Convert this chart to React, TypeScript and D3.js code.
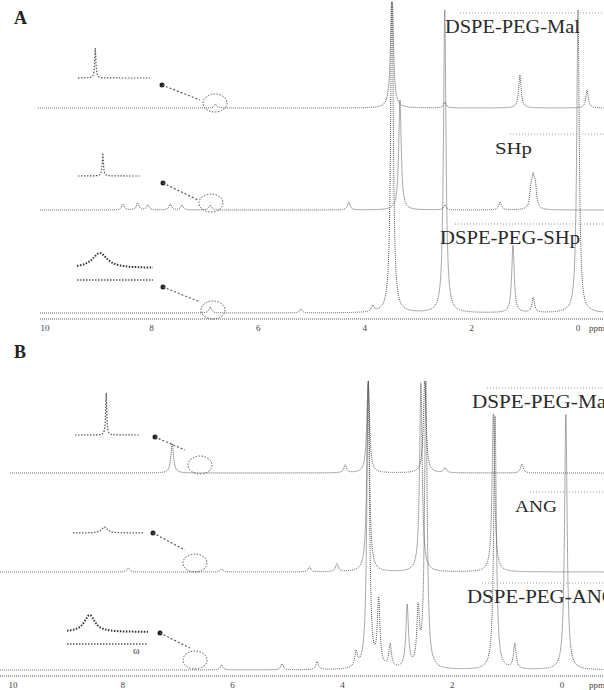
import React from 'react'
import * as d3 from 'd3'

// chemical shift ticks (ppm), same for both panels
const ppmTicks = [10, 8, 6, 4, 2, 0]

// peak lists [ppm, height] (heights in px above baseline)
const aMalPeaks: [number, number][] = [[3.49, 130], [1.09, 33], [-0.17, 18], [6.8, 4], [2.5, 6]]
const aShpPeaks: [number, number][] = [
  [3.34, 110], [0.84, 25], [0.8, 20], [0.88, 18], [4.3, 8], [1.46, 8],
  [8.54, 6], [8.26, 7], [8.07, 5], [7.65, 6], [7.43, 5], [2.5, 5], [6.9, 5],
]
const aPegShpPeaks: [number, number][] = [
  [3.49, 340], [2.5, 303], [1.22, 68], [0.84, 15], [0.0, 303], [3.85, 6], [5.2, 4], [6.9, 6],
]

const bMalPeaks: [number, number][] = [[3.53, 95], [2.5, 95], [3.95, 8], [2.13, 5], [0.73, 9], [7.1, 30]]
const bAngPeaks: [number, number][] = [[3.53, 190], [2.57, 190], [1.25, 160], [4.1, 8], [4.6, 5], [7.9, 4], [6.2, 3]]
const bPegAngPeaks: [number, number][] = [
  [3.53, 295], [3.34, 67], [3.13, 23], [2.82, 62], [2.62, 55], [2.48, 290], [1.22, 257],
  [0.86, 25], [-0.07, 258], [4.46, 8], [3.75, 15], [5.1, 6], [6.2, 5],
]

// inset expansions [position 0..1, height, width]
const aMalInset: [number, number, number][] = [[0.24, 30, 0.01]]
const aShpInset: [number, number, number][] = [[0.4, 23, 0.012]]
const aPegInset: [number, number, number][] = [[0.3, 15, 0.12]]
const bMalInset: [number, number, number][] = [[0.48, 42, 0.01]]
const bAngInset: [number, number, number][] = [[0.45, 6, 0.05]]
const bPegInset: [number, number, number][] = [[0.28, 17, 0.08]]

const traceLabels = ['DSPE-PEG-Mal', 'SHp', 'DSPE-PEG-SHp', 'DSPE-PEG-Mal', 'ANG', 'DSPE-PEG-ANG']

const INK = '#555'
const serif = '"Liberation Serif", "DejaVu Serif", serif'

const lorentz = (peaks: [number, number, number?][], x: number, w: number) =>
  d3.sum(peaks, (p) => {
    const g = p[2] ?? w
    return (p[1] * g * g) / (g * g + (x - p[0]) * (x - p[0]))
  })

interface TraceProps {
  x: d3.ScaleLinear<number, number>
  peaks: [number, number][]
  base: number
  x0: number
  x1: number
  top: number
}

const Trace: React.FC<TraceProps> = ({ x, peaks, base, x0, x1, top }) => {
  const y = d3.scaleLinear().domain([0, 100]).range([base, base - 100])
  const pts = d3.range(x0, x1, 0.4).map((px) => {
    const v = lorentz(peaks, x.invert(px), 0.028)
    return [px, Math.max(top, y(v))] as [number, number]
  })
  return <path d={d3.line()(pts) || ''} fill="none" stroke={INK} strokeWidth={1} strokeDasharray="1 1" />
}

interface InsetProps {
  peaks: [number, number, number][]
  x0: number
  x1: number
  base: number
  under?: boolean
}

const Inset: React.FC<InsetProps> = ({ peaks, x0, x1, base, under }) => {
  const t = d3.scaleLinear().domain([0, 1]).range([x0, x1])
  const pts = d3.range(0, 1.001, 0.005).map((u) => [t(u), base - lorentz(peaks, u, 0.01)] as [number, number])
  return (
    <g fill="none" stroke={INK} strokeDasharray="1.5 1.5">
      <path d={d3.line()(pts) || ''} strokeWidth={under ? 2 : 1.2} stroke={under ? '#333' : INK} />
      {under && <line x1={x0} x2={x1} y1={base + 12} y2={base + 12} strokeWidth={1.5} />}
    </g>
  )
}

const Pointer: React.FC<{ from: [number, number]; to: [number, number]; c: [number, number] }> = ({ from, to, c }) => (
  <g>
    <circle cx={from[0]} cy={from[1]} r={2.5} fill="#222" />
    <line x1={from[0]} y1={from[1]} x2={to[0]} y2={to[1]} stroke={INK} strokeDasharray="2 2" strokeWidth={1.2} />
    <ellipse cx={c[0]} cy={c[1]} rx={12} ry={9} fill="none" stroke={INK} strokeDasharray="1.5 1.5" />
  </g>
)

const Label: React.FC<{ text: string; x: number; y: number; len?: number; size?: number }> = ({ text, x, y, len, size = 19 }) => (
  <g>
    <line x1={x + 15} x2={604} y1={y - 20} y2={y - 20} stroke="#999" strokeDasharray="1 2" />
    <text x={x} y={y} fontFamily={serif} fontSize={size} fill="#2a2a2a" textLength={len} lengthAdjust="spacingAndGlyphs">
      {text}
    </text>
  </g>
)

const Axis: React.FC<{ x: d3.ScaleLinear<number, number>; y: number; x0: number }> = ({ x, y, x0 }) => (
  <g>
    <line x1={x0} x2={604} y1={y} y2={y} stroke={INK} strokeDasharray="1 1" />
    {ppmTicks.map((v) => (
      <text key={v} x={x(v)} y={y + 12} fontFamily={serif} fontSize={9} fill="#444" textAnchor="middle">
        {v}
      </text>
    ))}
    <text x={597} y={y + 12} fontFamily={serif} fontSize={9} fill="#444" textAnchor="middle">ppm</text>
  </g>
)

export default function App() {
  const xa = d3.scaleLinear().domain([10, 0]).range([45, 578])
  const xb = d3.scaleLinear().domain([10, 0]).range([13, 562])

  return (
    <svg width={604} height={690} style={{ position: 'absolute', left: 0, top: 0, background: '#fff' }}>
      {/* panel A */}
      <text x={14} y={24} fontFamily={serif} fontSize={18} fontWeight="bold" fill="#222">A</text>
      <Trace x={xa} peaks={aMalPeaks} base={108} x0={38} x1={604} top={2} />
      <Trace x={xa} peaks={aShpPeaks} base={210} x0={40} x1={604} top={2} />
      <Trace x={xa} peaks={aPegShpPeaks} base={313} x0={40} x1={604} top={2} />
      <Axis x={xa} y={319} x0={40} />
      <Inset peaks={aMalInset} x0={78} x1={150} base={78} />
      <Inset peaks={aShpInset} x0={78} x1={140} base={176} />
      <Inset peaks={aPegInset} x0={77} x1={153} base={268} under />
      <Pointer from={[162, 85]} to={[200, 100]} c={[215, 103]} />
      <Pointer from={[163, 183]} to={[198, 200]} c={[211, 203]} />
      <Pointer from={[163, 287]} to={[200, 302]} c={[213, 310]} />
      <Label text={traceLabels[0]} x={445} y={33} len={135} />
      <Label text={traceLabels[1]} x={495} y={154} len={37} size={17} />
      <Label text={traceLabels[2]} x={440} y={244} len={140} />

      {/* panel B */}
      <text x={14} y={358} fontFamily={serif} fontSize={18} fontWeight="bold" fill="#222">B</text>
      <Trace x={xb} peaks={bMalPeaks} base={473} x0={10} x1={604} top={381} />
      <Trace x={xb} peaks={bAngPeaks} base={572} x0={0} x1={604} top={381} />
      <Trace x={xb} peaks={bPegAngPeaks} base={670} x0={0} x1={604} top={381} />
      <Axis x={xb} y={676} x0={0} />
      <Inset peaks={bMalInset} x0={75} x1={140} base={435} />
      <Inset peaks={bAngInset} x0={73} x1={143} base={533} />
      <Inset peaks={bPegInset} x0={67} x1={148} base={632} under />
      <Pointer from={[155, 437]} to={[185, 450]} c={[200, 465]} />
      <Pointer from={[153, 533]} to={[185, 550]} c={[195, 563]} />
      <Pointer from={[160, 633]} to={[190, 648]} c={[195, 660]} />
      <text x={133} y={654} fontFamily={serif} fontSize={10} fill="#333">ω</text>
      <Label text={traceLabels[3]} x={472} y={408} len={140} />
      <Label text={traceLabels[4]} x={515} y={512} len={42} size={17} />
      <Label text={traceLabels[5]} x={467} y={603} len={150} />
    </svg>
  )
}
